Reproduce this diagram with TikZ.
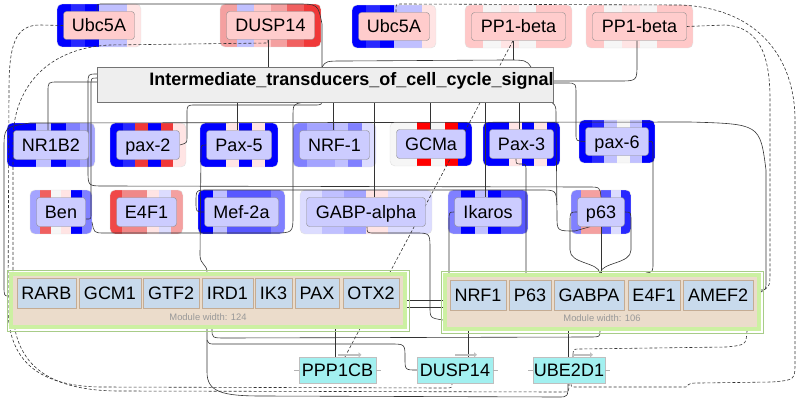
\documentclass[tikz,border=0pt]{standalone}
\usepackage{fontspec}
\setmainfont{Liberation Sans}
\usetikzlibrary{arrows.meta}
\pgfdeclarelayer{bg}\pgfdeclarelayer{edges}
\pgfsetlayers{bg,edges,main}
\definecolor{DB}{HTML}{0000FF}
\definecolor{B1}{HTML}{2828FF}
\definecolor{B2}{HTML}{5858FF}
\definecolor{B3}{HTML}{8080FF}
\definecolor{B4}{HTML}{A4A4FF}
\definecolor{B5}{HTML}{C0C0FF}
\definecolor{B6}{HTML}{DCDCFF}
\definecolor{WW}{HTML}{F6F6F6}
\definecolor{P1}{HTML}{FFE4E4}
\definecolor{P2}{HTML}{FFC8C8}
\definecolor{P3}{HTML}{F4A0A0}
\definecolor{R1}{HTML}{F06060}
\definecolor{R2}{HTML}{F03838}
\definecolor{RR}{HTML}{FF0000}
\definecolor{E1}{HTML}{F04848}
\definecolor{E2}{HTML}{F08888}
\definecolor{innerP}{HTML}{FFCCCC}
\definecolor{innerB}{HTML}{CCCCFF}
\definecolor{itfill}{HTML}{EEEEEE}
\definecolor{mgreen}{HTML}{CCF0A2}
\definecolor{mgreenD}{HTML}{A8CC88}
\definecolor{mbeige}{HTML}{EBDCCB}
\definecolor{mboxfill}{HTML}{C8DAEC}
\definecolor{mboxdraw}{HTML}{C4AC94}
\definecolor{cyanL}{HTML}{A2F0F0}
\tikzset{
  ibox/.style={rounded corners=3pt, draw=black!45, inner sep=0pt, text height=13pt, text depth=0pt,
    font=\fontsize{18}{20}\selectfont},
  edge/.style={draw=black!80, line width=0.6pt},
  dedge/.style={edge, dash pattern=on 3pt off 2pt},
  mbox/.style={draw=mboxdraw, fill=mboxfill, inner sep=0pt, minimum height=30pt, text height=13pt, text depth=0pt,
    font=\fontsize{18}{20}\selectfont},
  modframe/.style={fill=mbeige, draw=mgreen, line width=4pt, inner sep=0pt},
  modlabel/.style={text=black!40, font=\fontsize{9.4}{11}\selectfont},
  cnode/.style={draw=black!25, fill=cyanL, inner sep=0pt, minimum height=26pt, text height=13pt, text depth=0pt,
    font=\fontsize{18}{20}\selectfont},
  arrowbar/.style={draw=black!25, line width=2.5pt, -{Triangle[length=3pt,width=5pt]}},
  stub/.style={draw=black!30, line width=0.6pt}
}
\newcommand{\gnode}[8]{%
  \begin{pgfonlayer}{bg}
    \begin{scope}
      \clip[rounded corners=5pt] (#2,#3) rectangle (#4,#5);
      \foreach \stc [count=\i from 0] in {#8}{%
        \fill[\stc] ({#2+(#4-#2)*\i/6},#3) rectangle ({#2+(#4-#2)*(\i+1)/6+0.3},#5);}
    \end{scope}
    \draw[black!12, rounded corners=5pt] (#2,#3) rectangle (#4,#5);
  \end{pgfonlayer}
  \node[ibox, fill=#7, minimum width={(#4-#2-13)*1pt}, minimum height={(#5-#3-15)*1pt}] (#1)
    at ({(#2+#4)/2},{(#3+#5)/2}) {#6};}
\begin{document}
\begin{tikzpicture}[x=1pt,y=-1pt]
\useasboundingbox (0,0) rectangle (800,404);
\begin{pgfonlayer}{bg}
  \fill[white] (0,0) rectangle (800,404);
\end{pgfonlayer}
% top row
\gnode{ubcA}{57}{4}{141}{47}{Ubc5A}{innerP}{DB,B1,DB,B5,B5,P1}
\gnode{dusp}{220}{4}{321}{47}{DUSP14}{innerP}{P3,B5,P2,P3,R1,R2}
\gnode{ubcB}{352}{5}{436}{48}{Ubc5A}{innerP}{DB,B1,DB,B5,B5,P1}
\gnode{ppA}{465}{5}{572}{48}{PP1-beta}{innerP}{P2,WW,P1,WW,P2,P2}
\gnode{ppB}{586}{5}{693}{48}{PP1-beta}{innerP}{P2,WW,P1,WW,P2,P2}
% row 1
\gnode{nr}{7}{123}{95}{167}{NR1B2}{innerB}{DB,DB,B5,DB,B3,B4}
\gnode{pax2}{110}{123}{186}{167}{pax-2}{innerB}{DB,B1,R2,DB,R2,P1}
\gnode{pax5}{200}{123}{278}{167}{Pax-5}{innerB}{DB,DB,P1,DB,P1,DB}
\gnode{nrf}{293}{123}{376}{167}{NRF-1}{innerB}{B3,B4,B4,B5,B3,B6}
\gnode{gcma}{390}{122}{472}{166}{GCMa}{innerB}{WW,WW,RR,WW,RR,DB}
\gnode{pax3}{483}{122}{560}{166}{Pax-3}{innerB}{DB,DB,P1,DB,P1,DB}
\gnode{pax6}{579}{120}{655}{163}{pax-6}{innerB}{DB,B1,B5,WW,B5,DB}
% row 2
\gnode{ben}{30}{190}{92}{234}{Ben}{innerB}{B4,R1,WW,P1,DB,B3}
\gnode{e4f}{110}{190}{183}{234}{E4F1}{innerB}{E1,E2,E2,P1,B6,P3}
\gnode{mef}{198}{190}{285}{234}{Mef-2a}{innerB}{DB,B5,B2,B2,B2,B3}
\gnode{gabp}{300}{190}{432}{234}{GABP-alpha}{innerB}{B6,B5,B4,P1,B6,B6}
\gnode{ika}{448}{190}{528}{234}{Ikaros}{innerB}{B3,DB,B5,DB,B2,B2}
\gnode{p63}{571}{190}{631}{234}{p63}{innerB}{B3,P3,P3,B2,B6,B1}
% intermediate box
\node[draw=black!55, fill=itfill, minimum width=456pt, minimum height=35pt, inner sep=0pt, anchor=north west] (itcs) at (97,67) {};
\node[font=\bfseries\fontsize{18}{20}\selectfont, anchor=base] (itcsText) at (351.5,85) {Intermediate\_transducers\_of\_cell\_cycle\_signal};
% modules
\node[modframe, minimum width=394pt, minimum height=53pt] (modL) at (208,300.5) {};
\draw[mgreenD, line width=0.5pt] (modL.north west) ++(-2,-2) rectangle ([xshift=2pt,yshift=-2pt]modL.south east);
\node[mbox, minimum width=59pt] (rarb) at (46.5,293) {RARB};
\node[mbox, minimum width=62pt] (gcm1) at (110,293) {GCM1};
\node[mbox, minimum width=56pt] (gtf2) at (171,293) {GTF2};
\node[mbox, minimum width=51pt] (ird1) at (227.5,293) {IRD1};
\node[mbox, minimum width=37pt] (ik3) at (273.5,293) {IK3};
\node[mbox, minimum width=44pt] (pax) at (317,293) {PAX};
\node[mbox, minimum width=56pt] (otx2) at (371,293) {OTX2};
\node[modlabel] (labL) at (208,317) {Module width: 124};
\node[modframe, minimum width=314pt, minimum height=54pt] (modR) at (602,302) {};
\draw[mgreenD, line width=0.5pt] (modR.north west) ++(-2,-2) rectangle ([xshift=2pt,yshift=-2pt]modR.south east);
\node[mbox, minimum width=56pt] (nrf1) at (478,295) {NRF1};
\node[mbox, minimum width=42pt] (p63m) at (530,295) {P63};
\node[mbox, minimum width=70pt] (gabpa) at (589,295) {GABPA};
\node[mbox, minimum width=52pt] (e4f1m) at (654,295) {E4F1};
\node[mbox, minimum width=70pt] (amef2) at (718,295) {AMEF2};
\node[modlabel] (labR) at (602,318) {Module width: 106};
% bottom nodes
\node[cnode, minimum width=77pt] (ppp) at (337.5,370) {PPP1CB};
\node[cnode, minimum width=76pt] (dusb) at (455,370) {DUSP14};
\node[cnode, minimum width=72pt] (ube) at (569,370) {UBE2D1};
\foreach \n in {ppp,dusb,ube}{
  \draw[stub] (\n.west) -- ++(-5,0);
  \draw[stub] (\n.east) -- ++(5,0);
}
\draw[arrowbar] ([yshift=2pt]ppp.north) -- ++(24,0);
\draw[arrowbar] ([yshift=2pt]dusb.north) -- ++(22,0);
\draw[arrowbar] ([yshift=2pt,xshift=3pt]ube.north) -- ++(21,0);
% edges
\begin{pgfonlayer}{edges}
\draw[edge] (ubcA.north -| 97,0) -- (97,8) .. controls (97,4) .. (103,4) -- (296,4) .. controls (318,4) .. (322,24) -- (322,98) .. controls (322,105) .. (314,105) -- (196,105) .. controls (187,105) .. (187,114) -- (187,137) .. controls (187,143) .. (pax2.east);
\draw[edge] (itcs.south -| 303,0) .. controls (293,104) .. (293,118) -- (293,215) .. controls (293,233) .. (272,233) -- (105,233) .. controls (94,233) .. (92,222);
\draw[edge] ([yshift=-7pt]ben.east) -- (88,219) .. controls (91,219) .. (91,212) -- (91,86) .. controls (91,78) .. (itcs.west |- 0,78);
\draw[edge] (itcs.west |- 0,74) .. controls (88,74) .. (88,84) -- (88,170) .. controls (88,186) .. (104,186) -- (588,187) .. controls (600,187) .. (p63.north);
\draw[edge] (nr.north -| 48,0) -- (48,92) .. controls (48,82) .. (58,82) -- (itcs.west |- 0,82);
\draw[edge] (dusp.south -| 268,0) -- (itcs.north -| 268,0);
\draw[edge] (itcs.north -| 322,0) .. controls (326,61) .. (345,61) -- (505,60) .. controls (526,60) .. (itcs.north -| 531,0);
\draw[edge] (ppA.south -| 513,0) -- (513,60);
\draw[edge] (ppB.south -| 637,0) -- (637,64) .. controls (637,81) .. (618,81) -- (itcs.east |- 0,81);
\draw[edge] (itcs.east |- 0,83) -- (566,83) .. controls (576,83) .. (576,95) -- (576,134) .. controls (576,141) .. (pax6.west);
\draw[edge] (itcs.south -| 237,0) -- (pax5.north -| 237,0);
\draw[edge] (itcs.south -| 333,0) -- (nrf.north -| 333,0);
\draw[edge] (itcs.south -| 374,0) -- (gabp.north -| 374,0);
\draw[edge] (itcs.south -| 430,0) -- (gcma.north -| 430,0);
\draw[edge] (itcs.south -| 485,0) -- (ika.north -| 485,0);
\draw[edge] (itcs.south -| 519,0) -- (pax3.north -| 519,0);
\draw[edge] (itcs.south -| 552,0) .. controls (556,106) .. (556,118) -- (557,216) .. controls (557,231) .. (575,231) -- (p63.south -| 590,0);
\draw[edge] (mef.west) .. controls (196,212) .. (196,202) .. controls (196,190) .. (208,190) -- (540,190) .. controls (556,190) .. (557,205);
\draw[edge] (gabp.south -| 367,0) .. controls (367,233) .. (375,233) -- (415,233) .. controls (430,233) .. (430,250) -- (430,306) .. controls (430,318) .. (modR.west |- 0,320);
\draw[edge] (pax3.south -| 516,0) .. controls (516,164) .. (521,164) .. controls (526,164) .. (526,172) -- (modR.north -| 526,0);
\draw[edge] (ika.west) .. controls (449,212) .. (449,222) -- (modR.north -| 449,0);
\draw[edge] (p63.south) -- (modR.north -| 601,0);
\draw[edge] (p63.west) .. controls (570,212) .. (570,222) -- (570,250) .. controls (570,264) and (598,262) .. (600,273);
\draw[edge] (p63.east) .. controls (631,212) .. (631,222) -- (631,250) .. controls (631,264) and (602,262) .. (600,273);
\draw[edge] (pax6.east) .. controls (653,141) .. (653,150) -- (653,262) .. controls (653,272) .. (646,273);
\draw[edge] (modL.west |- 0,296) .. controls (4,296) .. (4,285) -- (4,150) .. controls (4,127) .. (30,123) -- (690,122) .. controls (760,124) .. (766,170) -- (766,280) .. controls (766,290) .. (modR.east |- 0,290);
\draw[edge] (pax5.west) .. controls (201,145) .. (201,152) -- (200,255) .. controls (200,265) and (207,264) .. (modL.north -| 207,0);
\draw[edge] (modL.south -| 335,0) -- (ppp.north -| 335,0);
\draw[edge] (modR.south -| 468,0) -- (dusb.north -| 468,0);
\draw[edge] (modR.south -| 568,0) -- (ube.north -| 568,0);
\draw[edge] (modL.south -| 207,0) -- (207,372) .. controls (207,392) and (222,396) .. (262,396) -- (558,397) .. controls (568,397) .. (ube.south -| 568,0);
\draw[edge] (modL.south -| 212,0) .. controls (212,338) .. (226,338) -- (588,337) .. controls (600,337) .. (modR.south -| 600,0);
\draw[edge] (dusb.west) .. controls (405,370) .. (405,358) .. controls (405,344) .. (390,344) -- (215,344) .. controls (209,344) .. (207,340);
\draw[edge] (modL.east |- 0,300) -- (modR.west |- 0,300);
\draw[edge] (modL.east |- 0,307) -- (modR.west |- 0,307);
% dashed
\draw[dedge] (ubcA.west) -- (40,25) .. controls (15,25) and (9,45) .. (9,90) -- (8,310) .. controls (9,362) and (40,386) .. (100,387) -- (445,388) .. controls (452,388) .. (dusb.south -| 452,0);
\draw[dedge] (dusp.south -| 268,0) -- (268,43) -- (110,45) .. controls (45,48) and (13,90) .. (13,140) -- (13,310) .. controls (14,366) and (50,391) .. (120,391) -- (563,392) .. controls (569,392) .. (ube.south -| 569,0);
\draw[dedge] (ubcB.north -| 396,0) -- (396,9) .. controls (396,4) .. (402,4) -- (680,5) .. controls (760,8) and (795,60) .. (795,120) -- (795,362) .. controls (795,380) .. (772,382) -- (700,383) .. controls (690,383) .. (686,387) -- (577,387) .. controls (571,387) .. (ube.south -| 571,0);
\draw[dedge] (ppB.east) -- (725,25) .. controls (762,27) and (770,60) .. (770,100) -- (770,272) .. controls (770,286) .. (modR.east |- 0,292);
\draw[dedge] (modR.south -| 747,0) .. controls (746,345) .. (726,347) -- (580,349) .. controls (573,349) .. (ube.north -| 573,0);
\draw[dedge] (ppA.south -| 513,0) -- (ppp.north -| 345,0);
\end{pgfonlayer}
\end{tikzpicture}
\end{document}
